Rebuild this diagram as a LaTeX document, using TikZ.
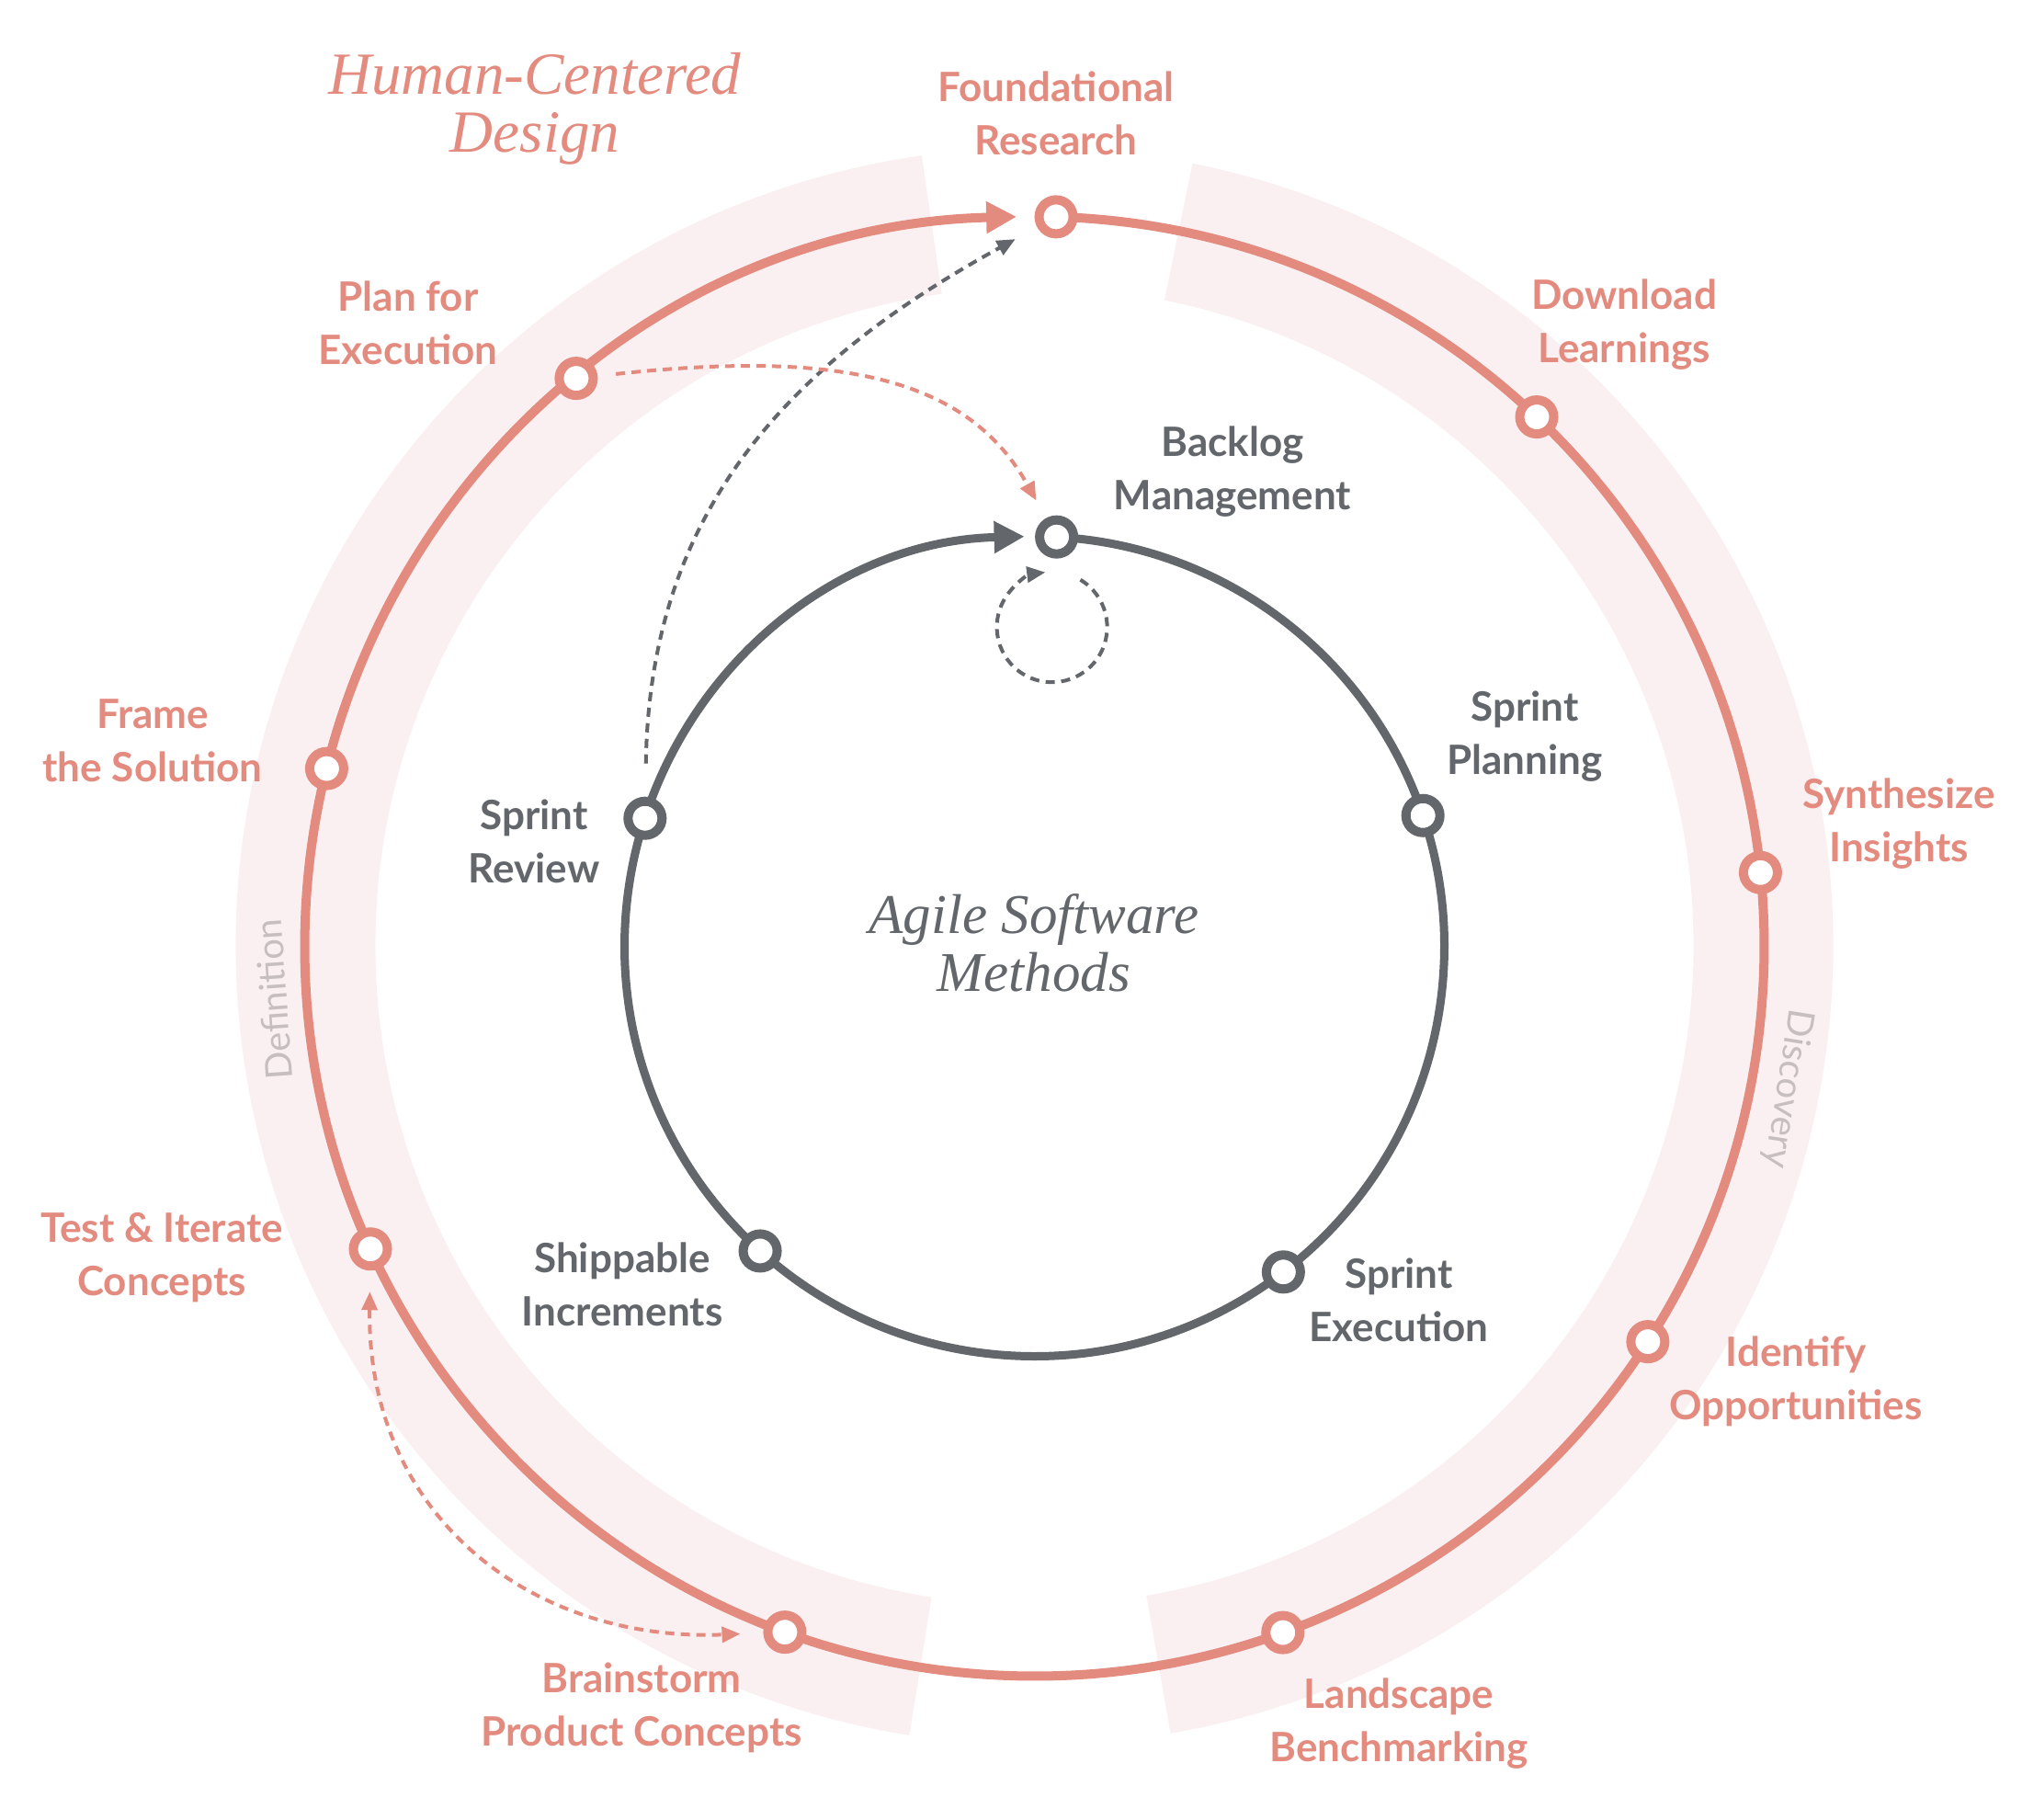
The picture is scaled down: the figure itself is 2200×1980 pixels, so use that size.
\documentclass[tikz,border=0pt]{standalone}
\usepackage{fontspec}
\newfontfamily\labelfont{Lato}
\newfontfamily\titlefont{Liberation Serif}
\usetikzlibrary{arrows.meta,calc}
\definecolor{salmon}{HTML}{E48B7F}
\definecolor{slate}{HTML}{63676B}
\definecolor{bandpink}{HTML}{FAF0F1}
\definecolor{phasegray}{HTML}{C6BEBF}
\tikzset{
  omark/.style={circle, draw=salmon, line width=10pt, fill=white, minimum size=37pt, inner sep=0pt},
  imark/.style={omark, draw=slate},
  olabel/.style={text=salmon, font=\labelfont\bfseries\fontsize{44}{58}\selectfont, align=center, inner sep=0pt},
  ilabel/.style={olabel, text=slate},
  titletext/.style={font=\titlefont\itshape\fontsize{65}{63}\selectfont, align=center, inner sep=0pt},
  phaselabel/.style={text=phasegray, font=\labelfont\fontsize{40}{40}\selectfont, inner sep=0pt},
  bandarc/.style={draw=bandpink, line width=152pt},
  ringtip/.style={-{Triangle[length=33pt,width=33pt]}},
  dashline/.style={line width=4pt, dash pattern=on 10pt off 7pt, -{Triangle[length=20pt,width=17pt]}},
}
\begin{document}
\begin{tikzpicture}[x=1pt,y=1pt]
\fill[white] (0,0) rectangle (2200,-1980);
\useasboundingbox (0,0) rectangle (2200,-1980);
\coordinate (c) at (1125.5,-1029.5);

% shaded phase bands
\draw[bandarc] ($(c)+(78.6:793pt)$) arc[start angle=78.6, end angle=-80.2, radius=793pt];
\draw[bandarc] ($(c)+(98.1:793pt)$) arc[start angle=98.1, end angle=261, radius=793pt];

\node[phaselabel, rotate=94] (defl) at ($(c)+(184:830pt)$) {Definition};
\node[phaselabel, rotate=-99] (disl) at ($(c)+(-10.7:834pt)$) {Discovery};

% rings
\draw[ringtip, salmon, line width=10pt] ($(c)+(88.3:794pt)$) arc[start angle=88.3, end angle=-268.6, radius=794pt];
\draw[ringtip, slate, line width=9pt] ($(c)+(86.9:446pt)$) arc[start angle=86.9, end angle=-268.6, radius=446pt];

% outer nodes
\node[omark] (fr)  at ($(c)+(88.3:794pt)$) {};
\node[omark] (dl)  at ($(c)+(46.5:794pt)$) {};
\node[omark] (si)  at ($(c)+(5.8:794pt)$) {};
\node[omark] (io)  at ($(c)+(-32.8:794pt)$) {};
\node[omark] (lb)  at ($(c)+(-70.1:794pt)$) {};
\node[omark] (bpc) at ($(c)+(-110:794pt)$) {};
\node[omark] (tic) at ($(c)+(-155.5:794pt)$) {};
\node[omark] (fs)  at ($(c)+(165.9:794pt)$) {};
\node[omark] (pe)  at ($(c)+(128.9:794pt)$) {};

% inner nodes
\node[imark] (bm) at ($(c)+(86.9:446pt)$) {};
\node[imark] (sp) at ($(c)+(18.6:446pt)$) {};
\node[imark] (se) at ($(c)+(-52.6:446pt)$) {};
\node[imark] (sh) at ($(c)+(-132:446pt)$) {};
\node[imark] (sr) at ($(c)+(161.8:446pt)$) {};

% dashed connectors
\draw[dashline, slate, shorten <=36pt, shorten >=27pt] (sr) .. controls +(5,328) and +(-299,-164) .. (fr);
\draw[dashline, salmon, shorten <=20pt, shorten >=22pt] (pe) .. controls +(294,32) and +(-95,170) .. (bm);
\draw[dashline, slate] ($(bm)+(25.9,-46.6)$) arc[start angle=59, end angle=-263, radius=60pt];
\draw[dashline, salmon, {Triangle[length=20pt,width=17pt]}-{Triangle[length=20pt,width=17pt]}, shorten <=23pt, shorten >=25pt] (tic) .. controls +(-4,-290) and +(-276,-11) .. (bpc);

% outer labels
\node[olabel] (frl) at (1149,-123) {Foundational\\Research};
\node[olabel] (dll) at (1767,-353) {Download\\Learnings};
\node[olabel] (sil) at (2066,-896) {Synthesize\\Insights};
\node[olabel] (iol) at (1954,-1503) {Identify\\Opportunities};
\node[olabel] (lbl) at (1522,-1875) {Landscape\\Benchmarking};
\node[olabel] (bpl) at (698,-1858) {Brainstorm\\Product Concepts};
\node[olabel] (til) at (176,-1368) {Test \& Iterate\\Concepts};
\node[olabel] (fsl) at (166,-806) {Frame\\the Solution};
\node[olabel] (pel) at (444,-351) {Plan for\\Execution};

% inner labels
\node[ilabel] (bml) at (1341,-513) {Backlog\\Management};
\node[ilabel] (spl) at (1659,-801) {Sprint\\Planning};
\node[ilabel] (sel) at (1522,-1414) {Sprint\\Execution};
\node[ilabel] (shl) at (677,-1397) {Shippable\\Increments};
\node[ilabel] (srl) at (581,-915) {Sprint\\Review};

% titles
\node[titletext, text=salmon] (hcd) at (582,-118) {Human-Centered\\Design};
\node[titletext, text=slate, font=\titlefont\itshape\fontsize{61}{63}\selectfont] (asm) at (1125,-1026) {Agile Software\\Methods};
\end{tikzpicture}
\end{document}
